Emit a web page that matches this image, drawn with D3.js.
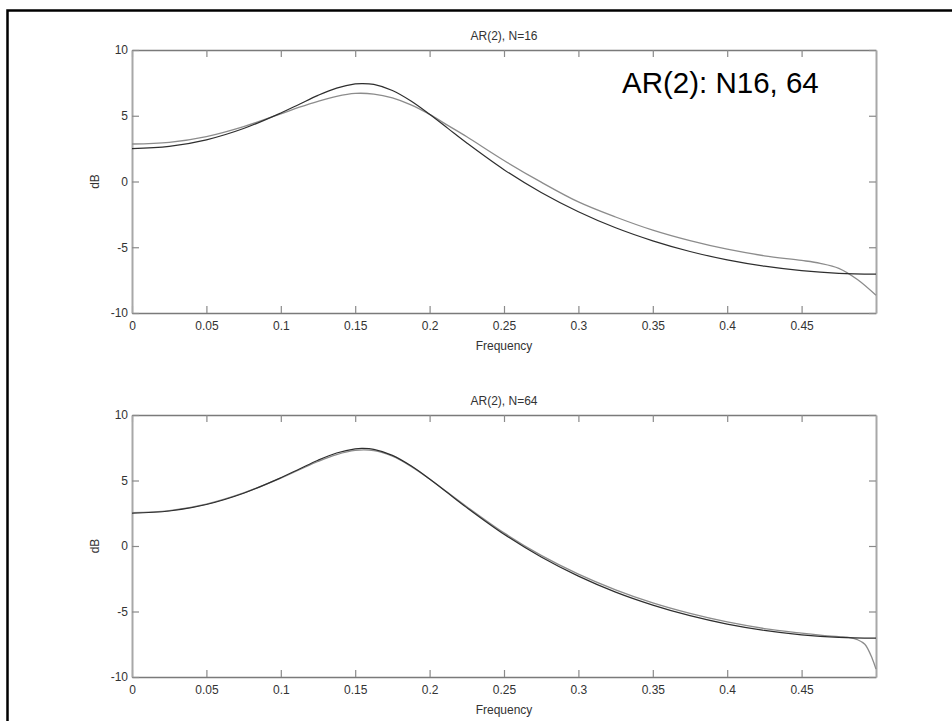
<!DOCTYPE html>
<html><head><meta charset="utf-8">
<script src="https://cdn.jsdelivr.net/npm/d3@7"></script>
<style>
body{margin:0;background:#fff}
svg{display:block}
text{font-family:"Liberation Sans",Arial,Helvetica,sans-serif}
</style>
</head><body>
<svg id="c" width="952" height="721"></svg>
<script>
// ---- data ----
const freqTrue = [0,0.025,0.05,0.075,0.1,0.1125,0.125,0.1375,0.15,0.155,0.1625,0.175,0.1875,0.2,0.2125,0.225,0.25,0.275,0.3,0.325,0.35,0.375,0.4,0.425,0.45,0.475,0.5];
const dbTrue   = [2.50,2.67,3.17,4.03,5.21,5.88,6.55,7.10,7.42,7.45,7.38,6.92,6.12,5.11,4.02,2.93,0.90,-0.84,-2.30,-3.52,-4.51,-5.32,-5.96,-6.44,-6.78,-6.98,-7.04];

const freqEst16 = [0,0.025,0.05,0.075,0.1,0.1125,0.125,0.1375,0.15,0.1625,0.175,0.1875,0.2,0.2125,0.225,0.25,0.275,0.3,0.325,0.35,0.375,0.4,0.425,0.45,0.4625,0.475,0.4875,0.5];
const dbEst16   = [2.85,2.98,3.42,4.18,5.15,5.65,6.10,6.48,6.70,6.65,6.35,5.82,5.10,4.25,3.40,1.60,-0.05,-1.55,-2.70,-3.70,-4.50,-5.15,-5.65,-6.00,-6.22,-6.60,-7.45,-8.65];

const freqEst64 = [0,0.025,0.05,0.075,0.1,0.1125,0.125,0.1375,0.15,0.1625,0.175,0.1875,0.2,0.2125,0.225,0.25,0.275,0.3,0.325,0.35,0.375,0.4,0.425,0.45,0.4625,0.475,0.4825,0.4875,0.4925,0.4975,0.5];
const dbEst64   = [2.55,2.70,3.20,4.05,5.18,5.82,6.45,6.98,7.30,7.28,6.85,6.08,5.12,4.06,3.00,1.00,-0.72,-2.15,-3.35,-4.35,-5.15,-5.80,-6.30,-6.65,-6.80,-6.92,-7.00,-7.15,-7.50,-8.60,-9.40];

const titles = ["AR(2), N=16", "AR(2), N=64"];
const xTicks = [0,0.05,0.1,0.15,0.2,0.25,0.3,0.35,0.4,0.45];
const yTicks = [-10,-5,0,5,10];
const xLabel = "Frequency";
const yLabel = "dB";
const note = "AR(2): N16, 64";

// ---- layout ----
const svg = d3.select("#c");
const L = 132, R = 876;
const panelBox = [{top:50, bottom:313}, {top:415, bottom:677}];
const estSeries = [[freqEst16, dbEst16], [freqEst64, dbEst64]];

// outer frame (top and left)
svg.append("path").attr("d", "M7.5,721 L7.5,10.5 L952,10.5")
  .attr("fill","none").attr("stroke","#000").attr("stroke-width",2.5);

const x = d3.scaleLinear().domain([0,0.5]).range([L,R]);

panelBox.forEach((pb, i) => {
  const y = d3.scaleLinear().domain([-10,10]).range([pb.bottom, pb.top]);
  const g = svg.append("g");

  const gb = g.append("g").attr("transform", `translate(0,${pb.bottom})`)
    .call(d3.axisBottom(x).tickValues(xTicks).tickSize(-7).tickSizeOuter(0).tickPadding(8.5).tickFormat(d => String(d)));
  const gt = g.append("g").attr("transform", `translate(0,${pb.top})`)
    .call(d3.axisTop(x).tickValues(xTicks).tickSize(-7).tickSizeOuter(0).tickFormat(""));
  const gl = g.append("g").attr("transform", `translate(${L},0)`)
    .call(d3.axisLeft(y).tickValues(yTicks).tickSize(-7).tickSizeOuter(0).tickPadding(4).tickFormat(d => String(d)));
  const gr = g.append("g").attr("transform", `translate(${R},0)`)
    .call(d3.axisRight(y).tickValues(yTicks).tickSize(-7).tickSizeOuter(0).tickFormat(""));

  [gb, gt].forEach(a => {
    a.select(".domain").attr("stroke","#7a7a7a").attr("stroke-width",1.6);
    a.selectAll(".tick line").attr("stroke","#8a8a8a").attr("stroke-width",1.2);
  });
  [gl, gr].forEach(a => {
    a.select(".domain").attr("stroke","#a8a8a8").attr("stroke-width",2);
    a.selectAll(".tick line").attr("stroke","#8a8a8a").attr("stroke-width",1.2);
  });
  g.selectAll(".tick text").attr("fill","#333").attr("font-size",12)
    .attr("font-family",'"Liberation Sans",Arial,sans-serif');

  const line = d3.line().x(d => x(d[0])).y(d => y(d[1])).curve(d3.curveCatmullRom.alpha(0.5));
  const [fe, ve] = estSeries[i];
  g.append("path").datum(fe.map((f,k) => [f, ve[k]]))
    .attr("d", line).attr("fill","none").attr("stroke","#8c8c8c").attr("stroke-width",1.3);
  g.append("path").datum(freqTrue.map((f,k) => [f, dbTrue[k]]))
    .attr("d", line).attr("fill","none").attr("stroke","#2e2e2e").attr("stroke-width",1.2);

  g.append("text").attr("x", (L+R)/2).attr("y", pb.top - 10).attr("text-anchor","middle")
    .attr("font-size",12).attr("fill","#333").text(titles[i]);
  g.append("text").attr("x", (L+R)/2).attr("y", pb.bottom + 37).attr("text-anchor","middle")
    .attr("font-size",12).attr("fill","#333").text(xLabel);
  g.append("text").attr("transform", `translate(99,${(pb.top+pb.bottom)/2}) rotate(-90)`)
    .attr("text-anchor","middle").attr("font-size",12).attr("fill","#333").text(yLabel);
});

svg.append("text").attr("x", 622).attr("y", 93).attr("font-size",29.5).attr("fill","#000").text(note);
</script>
</body></html>
